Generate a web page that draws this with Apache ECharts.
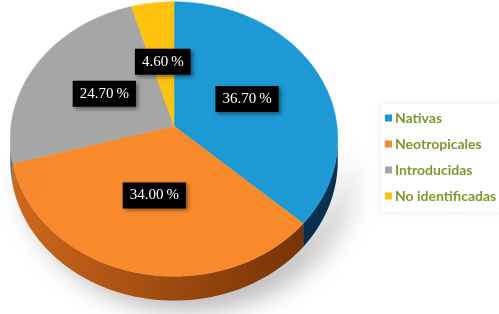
<!DOCTYPE html>
<html>
<head>
<meta charset="utf-8">
<script src="https://cdn.jsdelivr.net/npm/echarts@6/dist/echarts.min.js"></script>
<style>html,body{margin:0;padding:0;background:#fff}#c{width:499px;height:314px}</style>
</head>
<body>
<div id="c"></div>
<script>
const categories = ['Nativas', 'Neotropicales', 'Introducidas', 'No identificadas'];
const values = [36.7, 34.0, 24.7, 4.6];
const labelTexts = ['36.70\u2009%', '34.00\u2009%', '24.70\u2009%', '4.60\u2009%'];
const topColors = ['#1d9ad6', '#f98a2c', '#a6a6a6', '#ffc20e'];
const sideColors = [['#11557f', '#083150'], ['#d06a1e', '#7a3406'], ['#8a8a8a', '#6e6e6e'], ['#d9a000', '#b08000']];

// projection of a tilted disc (perspective)
const CX = 174, CY = 126, KX = 163, KY = 136, P = 0.095, H = 22;
const total = values.reduce((a, b) => a + b, 0);
function startAngle(i) { let s = 0; for (let k = 0; k < i; k++) s += values[k]; return s / total * Math.PI * 2; }
function proj(t, r, drop) {
  const u = r * Math.sin(t), v = r * Math.cos(t), d = 1 + P * v;
  return [CX + KX * u / d, CY - KY * v / d + (drop ? H / d : 0)];
}
function arcPts(a, b, r, drop) {
  const pts = [], n = Math.max(2, Math.ceil((b - a) / (Math.PI / 180)));
  for (let j = 0; j <= n; j++) pts.push(proj(a + (b - a) * j / n, r, drop));
  return pts;
}
const silL = Math.acos(-P), silR = Math.PI * 2 - Math.acos(-P);

function renderSlice(i) {
  return function () {
    const a = startAngle(i), b = a + values[i] / total * Math.PI * 2;
    const children = [];
    const sa = Math.max(a, silL), sb = Math.min(b, silR);
    if (sb > sa) {
      const top = arcPts(sa, sb, 1, false), bot = arcPts(sa, sb, 1, true).reverse();
      children.push({
        type: 'polygon', z2: 1,
        shape: { points: top.concat(bot) },
        style: {
          fill: new echarts.graphic.LinearGradient(0, 0, 1, 0.3, [
            { offset: 0, color: sideColors[i][0] }, { offset: 1, color: sideColors[i][1] }]),
          shadowBlur: 28, shadowColor: 'rgba(0,0,0,0.38)', shadowOffsetX: 14, shadowOffsetY: 6
        }
      });
    }
    const pts = [[CX, CY]].concat(arcPts(a, b, 1, false));
    children.push({
      type: 'polygon', z2: 2,
      shape: { points: pts },
      style: { fill: topColors[i], stroke: topColors[i], lineWidth: 0.5 }
    });
    return { type: 'group', children: children };
  };
}

function renderLabel(params) {
  const i = params.dataIndex;
  const a = startAngle(i), m = a + values[i] / total * Math.PI;
  const p = proj(m, 0.5, false);
  return {
    type: 'text', z2: 10,
    x: p[0], y: p[1],
    style: {
      text: labelTexts[i], fill: '#fff',
      font: '15px "Liberation Serif", "Times New Roman", serif',
      align: 'center', verticalAlign: 'middle',
      backgroundColor: '#000', padding: [6, 7, 5, 7],
      shadowBlur: 4, shadowColor: 'rgba(0,0,0,0.45)', shadowOffsetX: 2, shadowOffsetY: 2
    }
  };
}

const series = categories.map((name, i) => ({
  type: 'custom', name: name, coordinateSystem: 'none',
  itemStyle: { color: topColors[i] },
  data: [[values[i]]],
  renderItem: renderSlice(i),
  z: i < 2 ? 2 : 3
}));
series.push({
  type: 'custom', name: 'labels', coordinateSystem: 'none', z: 10,
  data: values.map(v => [v]),
  renderItem: renderLabel
});

const chart = echarts.init(document.getElementById('c'));
chart.setOption({
  animation: false,
  legend: {
    data: categories, orient: 'vertical', left: 381, top: 104,
    icon: 'rect', itemWidth: 7, itemHeight: 7, itemGap: 12,
    padding: [7, 4, 9, 4],
    backgroundColor: '#fff', shadowBlur: 6, shadowColor: 'rgba(0,0,0,0.10)',
    textStyle: { color: '#7b9a2b', fontFamily: 'Lato', fontWeight: 'bold', fontSize: 14, padding: [0, 0, 0, -2] },
    selectedMode: false
  },
  series: series
});
</script>
</body>
</html>
